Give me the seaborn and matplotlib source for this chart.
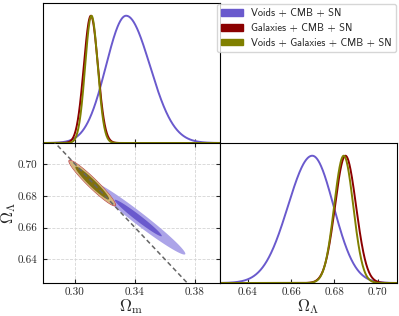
"""
Corner plot: Omega_m / Omega_Lambda constraints for voids, galaxies and the combination
"""
import numpy as np
import pandas as pd
import seaborn as sns
import matplotlib
matplotlib.use("Agg")
import matplotlib.pyplot as plt
from matplotlib.patches import Patch
from matplotlib.ticker import FormatStrFormatter

sns.set_style("ticks")
plt.rcParams.update({
    "font.family": "serif",
    "font.serif": ["cmr10", "DejaVu Serif"],
    "mathtext.fontset": "cm",
    "axes.formatter.use_mathtext": True,
    "axes.edgecolor": "black",
    "axes.linewidth": 0.8,
    "xtick.direction": "in",
    "ytick.direction": "in",
    "xtick.major.size": 3,
    "ytick.major.size": 3,
    "xtick.major.pad": 3,
    "ytick.major.pad": 4,
    "xtick.labelsize": 8,
    "ytick.labelsize": 8,
})

# datasets
labels = ["Voids + CMB + SN", "Galaxies + CMB + SN", "Voids + Galaxies + CMB + SN"]
line_colors = ["#6a5acd", "#8b0000", "#808000"]
inner_colors = ["#6a5acd", "#8b0000", "#80700f"]
outer_colors = ["#aca4e8", "#d9a59a", "#d2b67e"]

# 1D marginals (peak, sigma below / above peak)
om_peak = [0.3341, 0.3106, 0.3110]
om_sig_lo = [0.0134, 0.0047, 0.0042]
om_sig_hi = [0.0159, 0.0047, 0.0042]
ol_peak = [0.6698, 0.6851, 0.6843]
ol_sig_lo = [0.0112, 0.0048, 0.0044]
ol_sig_hi = [0.0098, 0.0049, 0.0044]

# 2D contours (centre, widths, correlation, inner/outer radius)
c2d_om = [0.3422, 0.3115, 0.3115]
c2d_ol = [0.6660, 0.6880, 0.6880]
c2d_sig_om = [0.0157, 0.0078, 0.0075]
c2d_sig_ol = [0.0115, 0.0072, 0.0069]
c2d_rho = [-0.978, -0.958, -0.958]
c2d_r_in = [1.0, 1.5, 1.5]
c2d_r_out = [2.0, 2.0, 2.0]

# flat universe line
flat_om = [0.25, 0.40]
flat_ol = [0.75, 0.60]

om_lim = (0.2787, 0.3967)
ol_lim = (0.6251, 0.7132)
ol_lim_1d = (0.6272, 0.7089)
om_ticks = [0.30, 0.34, 0.38]
ol_ticks = [0.64, 0.66, 0.68, 0.70]


def split_gauss(x, mu, s_lo, s_hi):
    s = np.where(x < mu, s_lo, s_hi)
    return np.exp(-0.5 * ((x - mu) / s) ** 2)


fig = plt.figure(figsize=(3.99, 3.16), dpi=100)
L, M, R = 0.1078, 0.5514, 0.995
B, H, T = 0.1044, 0.5475, 0.9905
ax_m = fig.add_axes([L, H, M - L, T - H])
ax_c = fig.add_axes([L, B, M - L, H - B])
ax_l = fig.add_axes([M, B, R - M, H - B])

# top-left: Omega_m marginal
xm = np.linspace(om_lim[0], om_lim[1], 500)
for i in range(3):
    df = pd.DataFrame({"x": xm, "p": split_gauss(xm, om_peak[i], om_sig_lo[i], om_sig_hi[i])})
    sns.lineplot(data=df, x="x", y="p", color=line_colors[i], lw=1.4, ax=ax_m)
ax_m.set_xlim(om_lim)
ax_m.set_ylim(0, 1.1)
ax_m.set_xticks(om_ticks)
ax_m.set_xticklabels([])
ax_m.set_yticks([])
ax_m.set_xlabel("")
ax_m.set_ylabel("")

# bottom-right: Omega_Lambda marginal
xl = np.linspace(ol_lim_1d[0], ol_lim_1d[1], 500)
for i in range(3):
    df = pd.DataFrame({"x": xl, "p": split_gauss(xl, ol_peak[i], ol_sig_lo[i], ol_sig_hi[i])})
    sns.lineplot(data=df, x="x", y="p", color=line_colors[i], lw=1.4, ax=ax_l)
ax_l.set_xlim(ol_lim_1d)
ax_l.set_ylim(0, 1.1)
ax_l.set_xticks(ol_ticks)
ax_l.xaxis.set_major_formatter(FormatStrFormatter("%.2f"))
ax_l.set_yticks([])
ax_l.set_ylabel("")
ax_l.set_xlabel(r"$\Omega_\Lambda$", fontsize=12)
ax_l.xaxis.set_label_coords(0.5, -0.1)

# bottom-left: 2D contours
gx, gy = np.meshgrid(np.linspace(om_lim[0], om_lim[1], 500),
                     np.linspace(ol_lim[0], ol_lim[1], 500))
for i in range(3):
    dx = (gx - c2d_om[i]) / c2d_sig_om[i]
    dy = (gy - c2d_ol[i]) / c2d_sig_ol[i]
    rho = c2d_rho[i]
    r2 = (dx ** 2 - 2 * rho * dx * dy + dy ** 2) / (1 - rho ** 2)
    ax_c.contourf(gx, gy, r2, levels=[0, c2d_r_out[i] ** 2], colors=[outer_colors[i]],
                  antialiased=True, zorder=2)
    ax_c.contourf(gx, gy, r2, levels=[0, c2d_r_in[i] ** 2], colors=[inner_colors[i]],
                  antialiased=True, zorder=2)
    if i == 1:
        ax_c.contour(gx, gy, r2, levels=[c2d_r_out[i] ** 2], colors=["#c05050"],
                     linewidths=0.6, zorder=2)
sns.lineplot(x=flat_om, y=flat_ol, color="#666666", lw=1.1, ax=ax_c, zorder=3)
ax_c.lines[-1].set_dashes([3, 2])
ax_c.set_xlim(om_lim)
ax_c.set_ylim(ol_lim)
ax_c.set_xticks(om_ticks)
ax_c.set_yticks(ol_ticks)
ax_c.xaxis.set_major_formatter(FormatStrFormatter("%.2f"))
ax_c.yaxis.set_major_formatter(FormatStrFormatter("%.2f"))
ax_c.tick_params(top=True, right=True)
ax_c.grid(True, ls="--", lw=0.6, color="#d5d5d5", zorder=0)
ax_c.set_xlabel(r"$\Omega_{\rm m}$", fontsize=12)
ax_c.set_ylabel(r"$\Omega_\Lambda$", fontsize=12)
ax_c.xaxis.set_label_coords(0.5, -0.1)
ax_c.yaxis.set_label_coords(-0.14, 0.5)

handles = [Patch(facecolor=c, edgecolor=c) for c in line_colors]
fig.legend(handles, labels, loc="upper right", bbox_to_anchor=(0.997, 0.993),
           prop={"family": "cmss10", "size": 7.5}, frameon=True, edgecolor="#cccccc",
           handlelength=2.1, handleheight=0.6, borderpad=0.4, labelspacing=0.45,
           handletextpad=0.8, borderaxespad=0.2)

plt.savefig("out.png", dpi=100)
plt.close()
